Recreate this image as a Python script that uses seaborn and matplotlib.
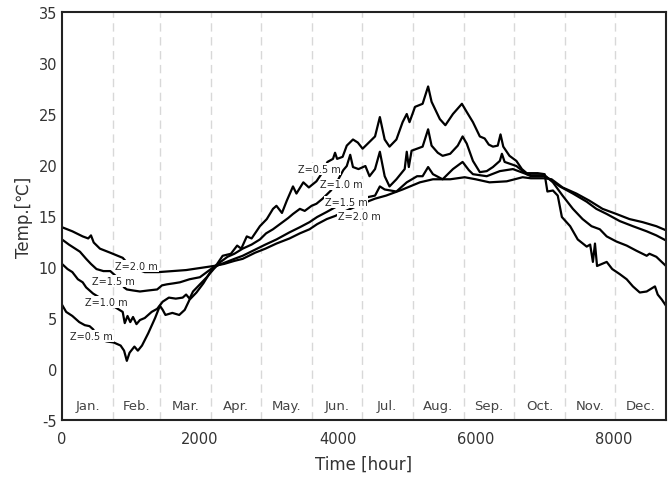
import matplotlib
matplotlib.use("Agg")
import matplotlib.pyplot as plt
from matplotlib.ticker import MultipleLocator
import pandas as pd
import seaborn as sns

# month names and boundaries (hours)
months = ["Jan.", "Feb.", "Mar.", "Apr.", "May.", "Jun.",
          "Jul.", "Aug.", "Sep.", "Oct.", "Nov.", "Dec."]
month_days = [31, 28, 31, 30, 31, 30, 31, 31, 30, 31, 30, 31]

# ground temperature at depth Z
hours_05 = [0, 60, 150, 250, 330, 400, 450, 550, 650, 750, 850, 900, 940, 980, 1050, 1100,
            1160, 1250, 1350, 1420, 1460, 1500, 1600, 1700, 1780, 1850, 1950, 2050, 2150, 2250,
            2330, 2450, 2540, 2600, 2680, 2750, 2870, 2970, 3060, 3110, 3190, 3260, 3350, 3400,
            3500, 3580, 3690, 3780, 3850, 3930, 3960, 3990, 4070, 4130, 4220, 4290, 4360, 4450,
            4540, 4610, 4680, 4750, 4850, 4940, 5000, 5040, 5120, 5230, 5310, 5360, 5480, 5560,
            5670, 5800, 5870, 5960, 6060, 6130, 6190, 6250, 6320, 6360, 6400, 6490, 6590, 6670,
            6740, 6800, 6900, 7000, 7040, 7120, 7190, 7250, 7370, 7480, 7610, 7660, 7700, 7730,
            7760, 7900, 7980, 8090, 8190, 8280, 8380, 8480, 8600, 8640, 8700, 8760]
temp_05 = [6.3, 5.6, 5.2, 4.6, 4.3, 4.2, 3.9, 2.9, 2.7, 2.6, 2.3, 1.8, 0.8, 1.6, 2.2, 1.8,
           2.3, 3.5, 5.0, 6.2, 5.8, 5.3, 5.5, 5.3, 5.8, 6.8, 7.5, 8.4, 9.5, 10.3,
           11.1, 11.3, 12.1, 11.8, 13.0, 12.8, 14.0, 14.7, 15.7, 16.0, 15.3, 16.5, 17.9, 17.2,
           18.3, 17.8, 18.4, 19.3, 20.3, 20.6, 21.2, 20.6, 20.8, 21.9, 22.5, 22.2, 21.6, 22.2,
           22.8, 24.7, 22.5, 21.8, 22.5, 24.2, 25.0, 24.2, 25.7, 26.0, 27.7, 26.2, 24.5, 23.9,
           25.0, 26.0, 25.2, 24.2, 22.8, 22.6, 22.0, 21.8, 21.9, 23.0, 21.8, 20.9, 20.4, 19.6,
           19.2, 19.2, 19.2, 19.1, 17.4, 17.5, 17.0, 14.9, 14.0, 12.7, 12.0, 12.2, 10.5, 12.3,
           10.1, 10.5, 9.8, 9.3, 8.8, 8.1, 7.5, 7.6, 8.1, 7.3, 6.8, 6.2]

hours_10 = [0, 80, 150, 230, 300, 350, 400, 450, 880, 910, 950, 990, 1030, 1080, 1130, 1200,
            1300, 1380, 1460, 1550, 1650, 1750, 1800, 1850, 1900, 2000, 2100, 2200, 2300, 2400,
            2500, 2620, 2750, 2870, 2960, 3060, 3200, 3280, 3350, 3450, 3520, 3620, 3690, 3780,
            3900, 4000, 4080, 4130, 4180, 4220, 4300, 4400, 4460, 4540, 4610, 4680, 4750, 4850,
            4970, 5000, 5030, 5070, 5150, 5230, 5310, 5360, 5450, 5520, 5630, 5740, 5810, 5870,
            5960, 6060, 6160, 6250, 6350, 6380, 6420, 6590, 6740, 6800, 6900, 7000, 7120, 7260,
            7410, 7550, 7680, 7800, 7900, 8040, 8190, 8330, 8480, 8520, 8620, 8760]
temp_10 = [10.3, 9.8, 9.5, 8.8, 8.5, 8.0, 7.7, 7.4, 5.6, 4.5, 5.2, 4.6, 5.1, 4.4, 4.8, 5.0,
           5.6, 5.9, 6.6, 7.0, 6.9, 7.0, 7.3, 6.9, 7.6, 8.3, 9.0, 9.8, 10.5, 11.0,
           11.3, 11.8, 12.2, 12.7, 13.3, 13.7, 14.4, 14.8, 15.2, 15.7, 15.5, 16.0, 16.2, 16.7,
           17.5, 18.5, 19.5, 19.9, 21.0, 19.8, 19.6, 19.9, 18.9, 19.6, 21.3, 18.9, 17.9, 18.6,
           19.6, 21.3, 19.8, 21.4, 21.6, 21.8, 23.5, 21.9, 21.2, 20.9, 21.1, 21.9, 22.8, 22.1,
           20.4, 19.3, 19.4, 19.8, 20.4, 21.1, 20.3, 19.9, 19.1, 19.0, 19.0, 19.0, 18.3, 17.0,
           15.7, 14.7, 14.0, 13.7, 13.0, 12.5, 12.1, 11.6, 11.1, 11.3, 11.0, 10.1]

hours_15 = [0, 100, 260, 350, 420, 500, 600, 700, 800, 900, 940, 1030, 1130, 1250, 1380, 1450,
            1520, 1620, 1710, 1850, 2000, 2100, 2200, 2350, 2500, 2620, 2800, 2950, 3110, 3300,
            3450, 3590, 3700, 3840, 4000, 4200, 4400, 4540, 4610, 4680, 4850, 5000, 5150, 5230,
            5310, 5380, 5520, 5670, 5810, 5900, 5960, 6160, 6350, 6540, 6740, 6800, 6900, 7000,
            7100, 7220, 7410, 7610, 7750, 7900, 8090, 8280, 8480, 8620, 8760]
temp_15 = [12.7, 12.2, 11.5, 10.8, 10.3, 9.8, 9.6, 9.6, 9.0, 8.0, 7.8, 7.7, 7.6, 7.7, 7.8, 8.2,
           8.3, 8.4, 8.5, 8.8, 9.0, 9.5, 10.0, 10.4, 10.8, 11.1, 11.7, 12.2, 12.7, 13.4,
           13.9, 14.4, 14.9, 15.4, 16.0, 16.5, 16.8, 17.0, 17.9, 17.6, 17.4, 18.3, 18.9, 18.9,
           19.8, 19.1, 18.6, 19.6, 20.3, 19.5, 19.1, 18.9, 19.4, 19.6, 19.1, 18.9, 18.9, 18.9,
           18.5, 17.9, 17.2, 16.4, 15.7, 15.2, 14.5, 14.0, 13.5, 13.1, 12.6]

hours_20 = [0, 150, 300, 380, 420, 460, 550, 700, 880, 1000, 1200, 1400, 1600, 1800, 2000, 2200,
            2350, 2500, 2620, 2800, 2950, 3110, 3300, 3450, 3590, 3700, 3840, 3960, 4150, 4350,
            4540, 4700, 4940, 5190, 5380, 5630, 5840, 6000, 6200, 6450, 6680, 6800, 6900, 7000,
            7100, 7260, 7460, 7650, 7840, 8040, 8230, 8420, 8620, 8760]
temp_20 = [13.9, 13.5, 13.0, 12.8, 13.1, 12.4, 11.8, 11.4, 10.9, 10.0, 9.5, 9.5, 9.6, 9.7, 9.9, 10.1,
           10.3, 10.6, 10.8, 11.4, 11.8, 12.3, 12.8, 13.3, 13.7, 14.2, 14.7, 15.0, 15.6, 16.2,
           16.7, 17.0, 17.6, 18.3, 18.6, 18.6, 18.8, 18.6, 18.3, 18.4, 18.8, 18.7, 18.7, 18.7,
           18.6, 17.8, 17.2, 16.5, 15.7, 15.2, 14.7, 14.4, 14.0, 13.6]

depths = ["Z=0.5 m", "Z=1.0 m", "Z=1.5 m", "Z=2.0 m"]
series = {
    "Z=0.5 m": (hours_05, temp_05),
    "Z=1.0 m": (hours_10, temp_10),
    "Z=1.5 m": (hours_15, temp_15),
    "Z=2.0 m": (hours_20, temp_20),
}

frames = []
for name in depths:
    h, t = series[name]
    frames.append(pd.DataFrame({"hour": h, "temp": t, "depth": name}))
df = pd.concat(frames, ignore_index=True)

sns.set_style("white")
plt.rcParams["font.family"] = ["DejaVu Sans", "Noto Sans CJK SC"]
plt.rcParams["axes.unicode_minus"] = False

fig = plt.figure(figsize=(6.69, 4.81), dpi=100)
ax = fig.add_axes([0.0927, 0.1247, 0.9028, 0.8483])

# month dividers
bounds = pd.Series(month_days).cumsum() * 24
for b in bounds[:-1]:
    ax.axvline(b, color="#d8d8d8", lw=1.0, ls=(0, (6, 4)), zorder=0)
starts = [0] + list(bounds[:-1])
for name, s, e in zip(months, starts, bounds):
    ax.text((s + e) / 2, -3.6, name, ha="center", va="center",
            fontsize=9.5, color="#444444")

sns.lineplot(data=df, x="hour", y="temp", units="depth", estimator=None,
             color="black", lw=1.6, ax=ax, sort=False)

# depth labels (white box hides the curve underneath)
label_box = dict(facecolor="white", edgecolor="none", pad=0.6)
left_labels = [(115, 3.2), (330, 6.6), (430, 8.6), (770, 10.1)]
mid_labels = [(3420, 19.6), (3740, 18.1), (3810, 16.4), (4000, 15.0)]
for name, (x1, y1), (x2, y2) in zip(depths, left_labels, mid_labels):
    ax.text(x1, y1, name, fontsize=7, ha="left", va="center", bbox=label_box, zorder=5)
    ax.text(x2, y2, name, fontsize=7, ha="left", va="center", bbox=label_box, zorder=5)

ax.set_xlim(0, 8760)
ax.set_ylim(-5, 35)
ax.set_xticks([0, 2000, 4000, 6000, 8000])
ax.xaxis.set_minor_locator(MultipleLocator(500))
ax.yaxis.set_major_locator(MultipleLocator(5))
ax.yaxis.set_minor_locator(MultipleLocator(1))
ax.tick_params(which="both", direction="in", colors="#333333", labelsize=10.5)
ax.tick_params(which="major", length=5, width=1)
ax.tick_params(which="minor", length=2.5, width=0.8)
ax.tick_params(axis="x", pad=8)
for sp in ax.spines.values():
    sp.set_color("#222222")
    sp.set_linewidth(1.5)

ax.set_xlabel("Time [hour]", fontsize=12, color="#333333", labelpad=6)
ax.set_ylabel("Temp.[℃]", fontsize=12, color="#333333", labelpad=4)

fig.savefig("out.png", dpi=100)
